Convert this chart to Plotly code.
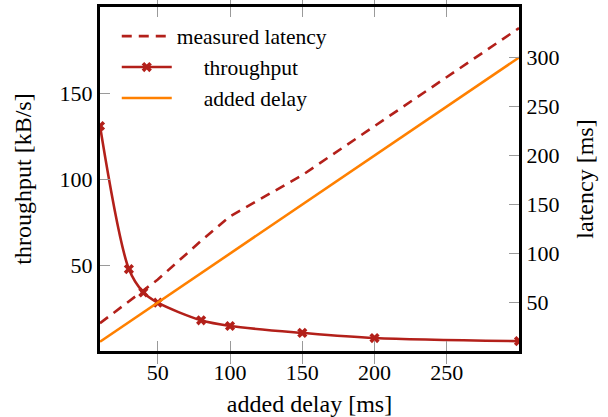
import plotly.graph_objects as go

# data
delay_ms = [10, 30, 40, 50, 80, 100, 150, 200, 300]
throughput_kbs = [131, 48, 34.5, 28.5, 18.3, 15, 11, 8, 6.2]
measured_latency_ms = [29, 51, 62, 73.5, 113, 138, 180, 230, 330]
added_delay_ms = [10, 30, 40, 50, 80, 100, 150, 200, 300]

x_ticks = [50, 100, 150, 200, 250]
y_ticks = [50, 100, 150]
y2_ticks = [50, 100, 150, 200, 250, 300]

RED = "#B3201A"
ORANGE = "#FF8000"
FONT = "'Liberation Serif', 'DejaVu Serif', serif"
NB = "\u00a0"

fig = go.Figure()
fig.add_trace(go.Scatter(
    x=delay_ms, y=measured_latency_ms, yaxis="y2", mode="lines",
    name="measured latency",
    line=dict(color=RED, width=2.6, dash="10px,7px"),
))
fig.add_trace(go.Scatter(
    x=delay_ms, y=throughput_kbs, yaxis="y", mode="lines+markers",
    name=NB * 5 + "throughput",
    line=dict(color=RED, width=2.6, shape="spline", smoothing=0.9),
    marker=dict(symbol="x", size=9, color=RED),
))
fig.add_trace(go.Scatter(
    x=delay_ms, y=added_delay_ms, yaxis="y2", mode="lines",
    name=NB * 5 + "added delay",
    line=dict(color=ORANGE, width=2.6),
))

axis_common = dict(
    ticks="inside", ticklen=10, tickwidth=1, tickcolor="#9a9a9a",
    showgrid=False, zeroline=False, showline=True, linecolor="black",
    linewidth=3, automargin=False,
    tickfont=dict(family=FONT, size=22, color="black"),
)

fig.update_layout(
    width=608, height=417,
    margin=dict(l=100, r=89, t=7, b=66),
    paper_bgcolor="white", plot_bgcolor="white",
    font=dict(family=FONT, size=22, color="black"),
    showlegend=True,
    legend=dict(
        x=0.04, y=0.975, xanchor="left", yanchor="top",
        bgcolor="rgba(255,255,255,0)", borderwidth=0,
        font=dict(family=FONT, size=21.5, color="black"),
        tracegroupgap=0, itemwidth=50,
    ),
    xaxis=dict(
        range=[10, 300], tickvals=x_ticks, mirror="allticks",
        title=dict(text="added delay [ms]", font=dict(family=FONT, size=24), standoff=12),
        **axis_common,
    ),
    yaxis=dict(
        range=[0.5, 200], tickvals=y_ticks,
        title=dict(text="throughput [kB/s]", font=dict(family=FONT, size=24), standoff=22),
        **axis_common,
    ),
    yaxis2=dict(
        range=[0.6, 351.5], tickvals=y2_ticks, overlaying="y", side="right",
        title=dict(text="latency [ms]", font=dict(family=FONT, size=24), standoff=18),
        **axis_common,
    ),
)

fig.write_html("out.html", config={"displayModeBar": False},
               post_script="document.body.style.margin='0';")
